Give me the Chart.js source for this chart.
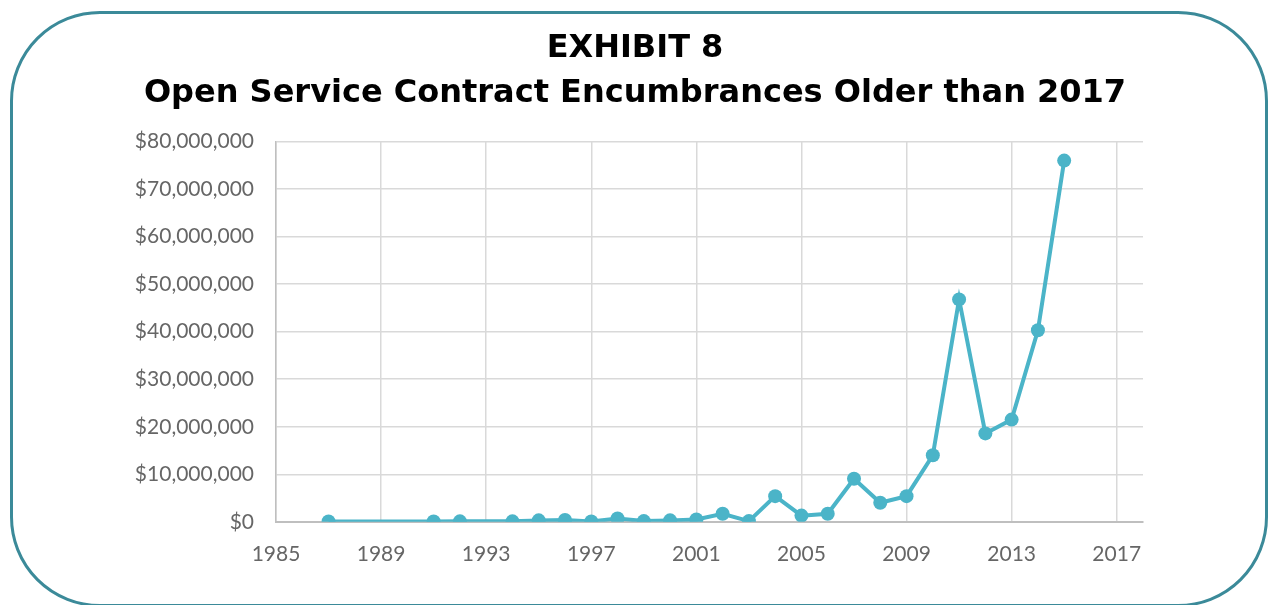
<!DOCTYPE html>
<html>
<head>
<meta charset="utf-8">
<title>Exhibit 8</title>
<script src="https://cdn.jsdelivr.net/npm/chart.js@4/dist/chart.umd.min.js"></script>
<style>
  html, body { margin: 0; padding: 0; background: #ffffff; }
  #wrap { position: relative; width: 1270px; height: 605px; overflow: hidden; }
  #frame {
    position: absolute; left: 10px; top: 11px; width: 1258px; height: 596px;
    border: 3px solid #3b8a99; border-radius: 90px; box-sizing: border-box;
  }
  canvas { position: absolute; left: 0; top: 0; }
</style>
</head>
<body>
<div id="wrap">
  <div id="frame"></div>
  <canvas id="chart" width="1270" height="605"></canvas>
</div>
<script>
// Fiscal year of the encumbrance and the open amount (USD)
const years = [1987, 1991, 1992, 1994, 1995, 1996, 1997, 1998, 1999, 2000, 2001, 2002, 2003,
               2004, 2005, 2006, 2007, 2008, 2009, 2010, 2011, 2012, 2013, 2014, 2015];
const amounts = [50000, 80000, 90000, 100000, 300000, 400000, 50000, 700000, 150000, 300000,
                 500000, 1700000, 150000, 5400000, 1300000, 1700000, 9050000, 4000000, 5400000,
                 14000000, 46800000, 18600000, 21500000, 40300000, 76000000];
const yearTicks = [1985, 1989, 1993, 1997, 2001, 2005, 2009, 2013, 2017];
const titleLines = ['EXHIBIT 8', 'Open Service Contract Encumbrances Older than 2017'];

const points = years.map((y, i) => ({ x: y, y: amounts[i] }));
const lineColor = '#4bb4c8';
const tickFont = { family: 'Lato', size: 21, weight: 'normal' };

new Chart(document.getElementById('chart'), {
  type: 'line',
  data: {
    datasets: [{
      data: points,
      borderColor: lineColor,
      backgroundColor: lineColor,
      borderWidth: 4,
      pointRadius: 7,
      pointHoverRadius: 7,
      pointBorderWidth: 0,
      tension: 0
    }]
  },
  options: {
    responsive: false,
    animation: false,
    layout: { padding: { left: 0, right: 0, top: 26, bottom: 18 } },
    plugins: {
      legend: { display: false },
      tooltip: { enabled: false },
      title: {
        display: true,
        text: titleLines,
        color: '#000000',
        font: { family: 'DejaVu Sans', size: 32, weight: 'bold', lineHeight: 1.4 },
        padding: { top: 0, bottom: 26 }
      }
    },
    scales: {
      x: {
        type: 'linear',
        min: 1985,
        max: 2018,
        afterBuildTicks: (axis) => { axis.ticks = yearTicks.map(v => ({ value: v })); },
        ticks: {
          color: '#666666',
          font: tickFont,
          padding: 20,
          maxRotation: 0,
          callback: (v) => String(v)
        },
        grid: { color: '#d9d9d9', lineWidth: 1.5, drawTicks: false },
        border: { color: '#bfbfbf', width: 2 }
      },
      y: {
        min: 0,
        max: 80000000,
        ticks: {
          stepSize: 10000000,
          color: '#666666',
          font: tickFont,
          padding: 22,
          callback: (v) => '$' + Number(v).toLocaleString('en-US')
        },
        afterFit: (axis) => { axis.width = 276; },
        grid: { color: '#d9d9d9', lineWidth: 1.5, drawTicks: false },
        border: { color: '#bfbfbf', width: 1.5 }
      },
      // empty spacer on the right so the plot ends before the frame's corner
      spacer: {
        type: 'linear',
        position: 'right',
        min: 0,
        max: 1,
        ticks: { display: false },
        grid: { display: false },
        border: { display: false },
        afterFit: (axis) => { axis.width = 127; }
      }
    }
  }
});
</script>
</body>
</html>
